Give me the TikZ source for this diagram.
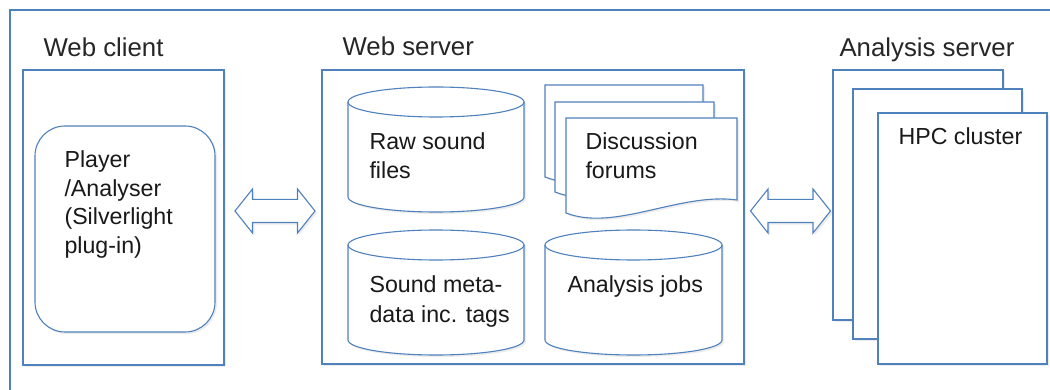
\documentclass[tikz,border=0pt]{standalone}
\usepackage{fontspec}
\setmainfont{Liberation Sans}
\usetikzlibrary{shapes.arrows,shadows}
\definecolor{edgeblue}{RGB}{79,129,189}
\newcommand{\docsheet}[4]{%
  \draw[line,fill=white,shade] (#1,#2) -- (#3,#2) -- (#3,{#4-13})
    .. controls +(-57,-8) and +(49,19) .. (#1,#4) -- cycle;}
\newcommand{\drum}[4]{%
  \draw[line,fill=white,shade] (#1,{#2+15}) -- (#1,{#4-15})
    arc[start angle=180,end angle=0,x radius={(#3-#1)/2},y radius=15] -- (#3,{#2+15})
    arc[start angle=0,end angle=-180,x radius={(#3-#1)/2},y radius=15] -- cycle;
  \draw[line] (#1,{#2+15}) arc[start angle=180,end angle=0,x radius={(#3-#1)/2},y radius=15];}
\begin{document}
\begin{tikzpicture}[x=1pt,y=-1pt,
  line/.style={draw=edgeblue,line width=1.1pt},
  shade/.style={drop shadow={opacity=0.15,shadow xshift=2pt,shadow yshift=-2pt}},
  box/.style={line,fill=white,shade,rectangle,inner sep=0pt},
  dblarrow/.style={line,fill=white,shade,double arrow,double arrow head extend=10.5pt,
    double arrow tip angle=103,minimum height=80pt,text height=11pt,text depth=11pt,
    text width=0pt,inner sep=0pt},
  title/.style={anchor=base west,font=\fontsize{25.8}{30}\selectfont,text=black!85},
  txt/.style={anchor=base west,align=left,font=\fontsize{23.2}{29}\selectfont,text=black!90}]
\useasboundingbox (0,0) rectangle (1050,390);
\draw[line] (10,10) rectangle (1070,410);
\node[box,minimum width=201pt,minimum height=295pt] (client) at (123.5,217.5) {};
\node[box,rounded corners=30pt,minimum width=180pt,minimum height=206pt] (player) at (125,229) {};
\node[txt,font=\fontsize{23.2}{28.5}\selectfont] (playertxt) at (61,253.5) {Player\\/Analyser\\(Silverlight\\plug-in)};
\node[title] (clienttitle) at (40,57) {Web client};
\node[box,minimum width=422pt,minimum height=294pt] (server) at (533,217) {};
\node[title] (servertitle) at (339,56) {Web server};
\drum{348}{87}{524}{212}
\drum{348}{230}{524}{355}
\drum{545}{230}{722}{355}
\node[txt] (rawtxt) at (366,179) {Raw sound\\files};
\node[txt] (metatxt) at (366,322) {Sound meta-\\data inc. tags};
\node[txt] (jobstxt) at (564,292) {Analysis jobs};
\docsheet{545}{85}{703}{177}
\docsheet{555}{102}{714}{192}
\docsheet{566}{118}{737}{213}
\node[txt] (forumtxt) at (582,179) {Discussion\\forums};
\node[box,minimum width=170pt,minimum height=250pt] (hpcA) at (918,195) {};
\node[box,minimum width=169pt,minimum height=250pt] (hpcB) at (937.5,214) {};
\node[box,minimum width=169pt,minimum height=251pt] (hpc) at (962.5,238.5) {};
\node[title] (hpctitle) at (836,57) {Analysis server};
\node[txt] (hpctxt) at (895,145) {HPC cluster};
\node[dblarrow] (linkL) at (275,211) {};
\node[dblarrow] (linkR) at (790.5,211) {};
\end{tikzpicture}
\end{document}
